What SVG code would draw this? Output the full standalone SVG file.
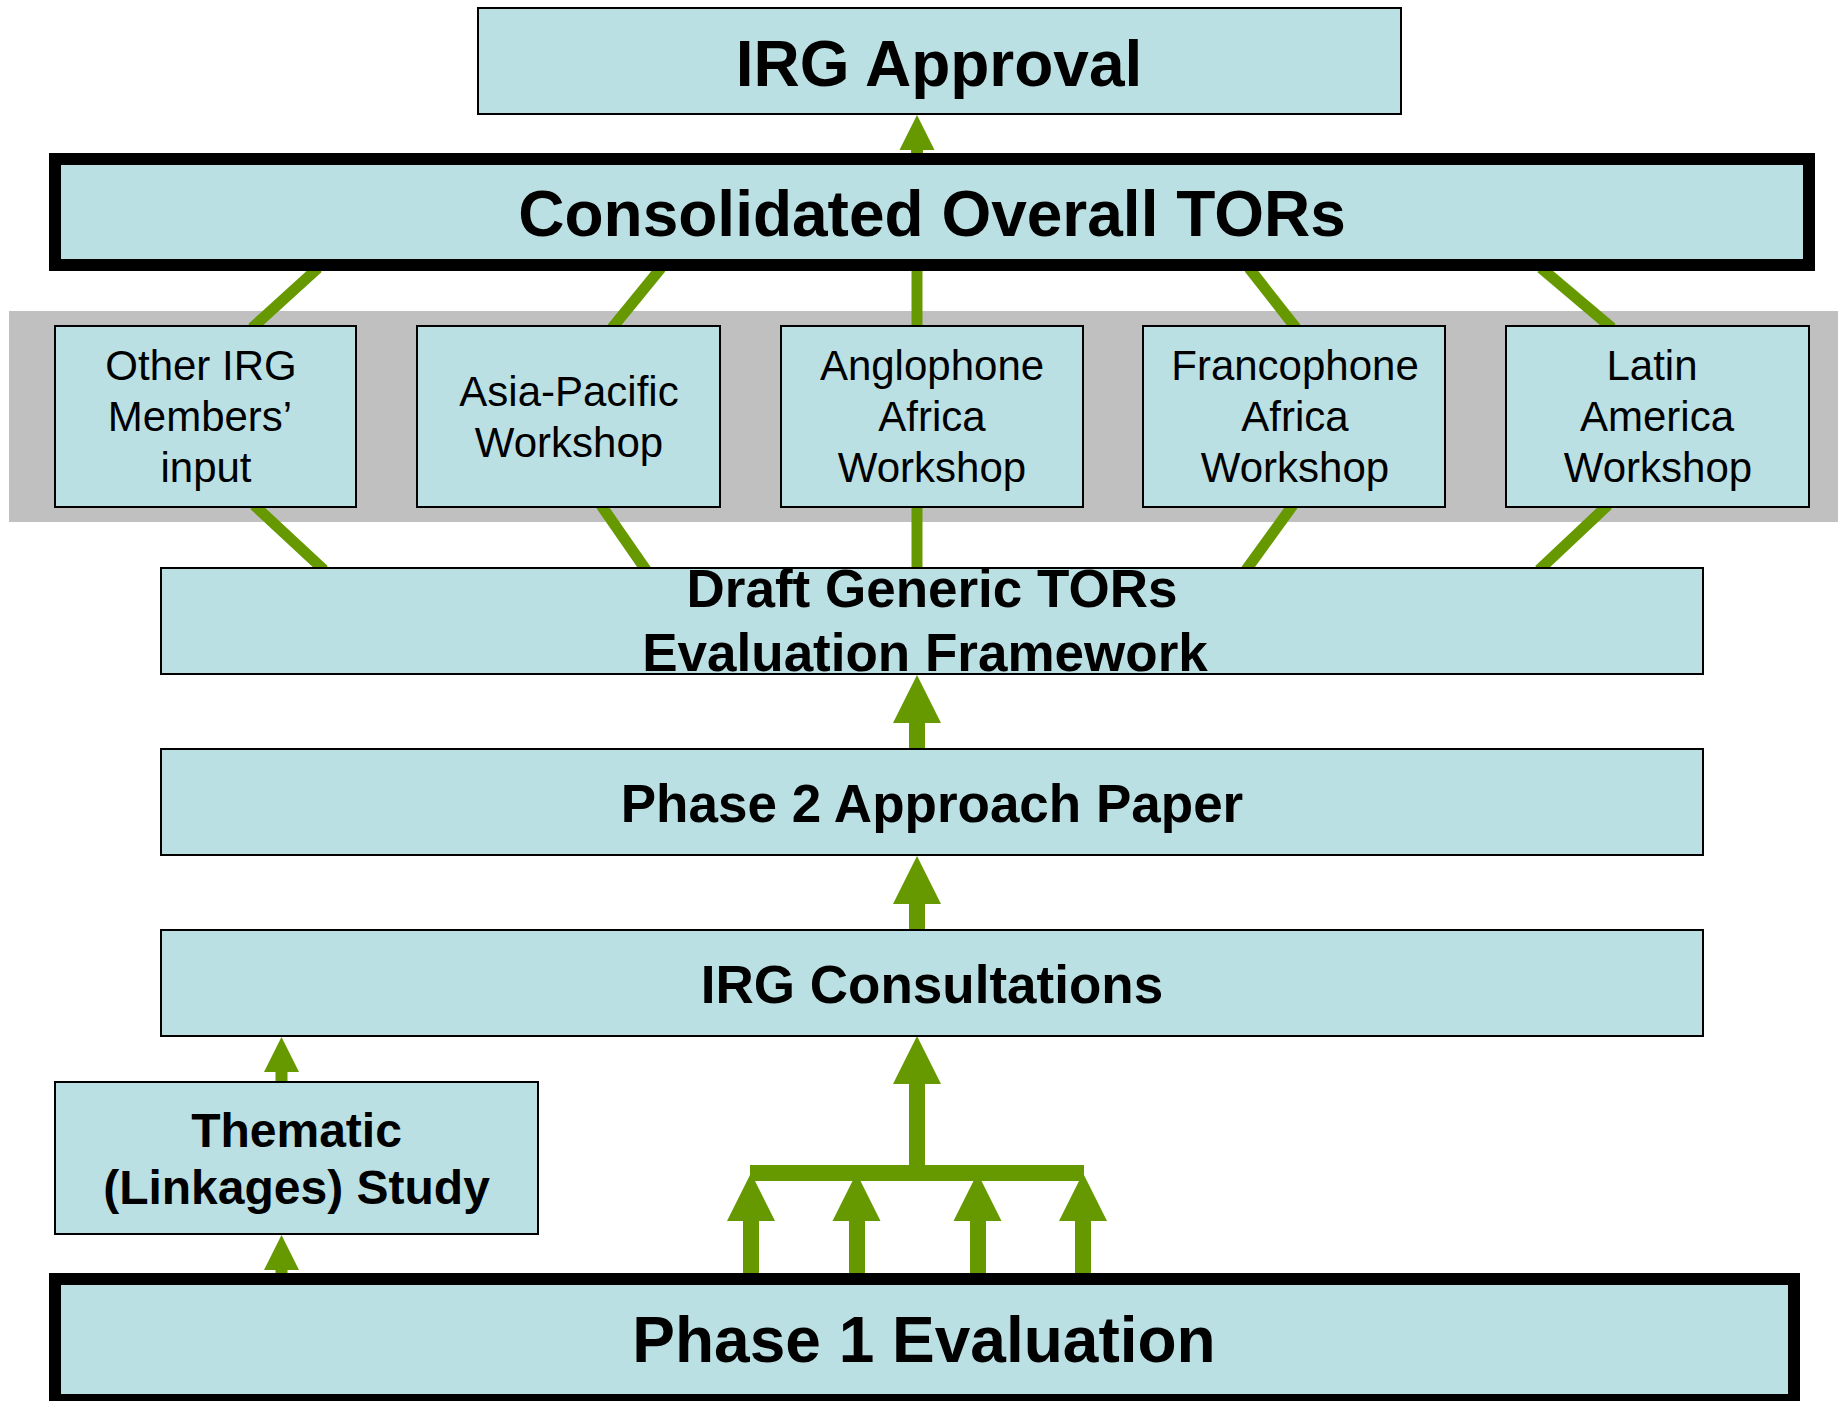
<svg xmlns="http://www.w3.org/2000/svg" xmlns:xlink="http://www.w3.org/1999/xlink" width="1838" height="1401" viewBox="0 0 1838 1401">
<style>
text{font-family:"Liberation Sans",Arial,sans-serif;fill:#000;text-anchor:middle}
.box{fill:#BBE0E3;stroke:#000;stroke-width:2}
.thick{fill:#BBE0E3;stroke:#000;stroke-width:12}
.b53{font-size:53px;font-weight:bold}
.b64{font-size:64px;font-weight:bold}
.b48{font-size:48px;font-weight:bold}
.r42{font-size:42px}
.ln{stroke:#669900;stroke-width:11;fill:none}
.g{fill:#669900}
</style>
<defs>
<path id="headB" d="M0,0 L24,48 L-24,48 Z"/>
<path id="headS" d="M0,0 L17.5,35 L-17.5,35 Z"/>
</defs>
<rect x="9" y="311" width="1829" height="211" fill="#C0C0C0"/>
<g id="connectors">
<line class="ln" x1="318" y1="268" x2="252" y2="328"/>
<line class="ln" x1="661" y1="268" x2="612" y2="328"/>
<line class="ln" x1="917" y1="268" x2="917" y2="328"/>
<line class="ln" x1="1249" y1="268" x2="1296" y2="328"/>
<line class="ln" x1="1541" y1="268" x2="1612" y2="328"/>
<line class="ln" x1="254" y1="505" x2="324" y2="570"/>
<line class="ln" x1="601" y1="505" x2="646" y2="570"/>
<line class="ln" x1="917" y1="505" x2="917" y2="570"/>
<line class="ln" x1="1293" y1="505" x2="1246" y2="570"/>
<line class="ln" x1="1608" y1="505" x2="1539" y2="570"/>
<g class="g">
<use xlink:href="#headS" x="917" y="115"/><rect x="911" y="149" width="12" height="6"/>
<use xlink:href="#headB" x="917" y="675"/><rect x="909" y="721" width="16" height="30"/>
<use xlink:href="#headB" x="917" y="856"/><rect x="909" y="903" width="16" height="29"/>
<use xlink:href="#headS" x="281.5" y="1037"/><rect x="275.5" y="1071" width="12" height="12"/>
<use xlink:href="#headS" x="281.5" y="1235"/><rect x="275.5" y="1269" width="12" height="6"/>
<use xlink:href="#headB" x="917" y="1036"/><rect x="909" y="1083" width="16" height="84"/>
<rect x="750" y="1165" width="334" height="16"/>
<use xlink:href="#headB" x="751" y="1173"/><rect x="743" y="1220" width="16" height="55"/>
<use xlink:href="#headB" x="856.5" y="1173"/><rect x="849" y="1220" width="16" height="55"/>
<use xlink:href="#headB" x="977.5" y="1173"/><rect x="970" y="1220" width="16" height="55"/>
<use xlink:href="#headB" x="1083" y="1173"/><rect x="1075" y="1220" width="16" height="55"/>
</g>
</g>
<g id="irg-approval"><rect class="box" x="478" y="8" width="923" height="106"/><text class="b64" x="939" y="86">IRG Approval</text></g>
<g id="consolidated"><rect class="thick" x="55" y="159" width="1754" height="106"/><text class="b64" x="932" y="236">Consolidated Overall TORs</text></g>
<g id="other-irg"><rect class="box" x="55" y="326" width="301" height="181"/><text class="r42" x="201" y="380">Other IRG</text><text class="r42" x="200" y="431">Members’</text><text class="r42" x="206" y="482">input</text></g>
<g id="asia-pacific"><rect class="box" x="417" y="326" width="303" height="181"/><text class="r42" x="569" y="406">Asia-Pacific</text><text class="r42" x="569" y="457">Workshop</text></g>
<g id="anglophone"><rect class="box" x="781" y="326" width="302" height="181"/><text class="r42" x="932" y="380">Anglophone</text><text class="r42" x="932" y="431">Africa</text><text class="r42" x="932" y="482">Workshop</text></g>
<g id="francophone"><rect class="box" x="1143" y="326" width="302" height="181"/><text class="r42" x="1295" y="380">Francophone</text><text class="r42" x="1295" y="431">Africa</text><text class="r42" x="1295" y="482">Workshop</text></g>
<g id="latin-america"><rect class="box" x="1506" y="326" width="303" height="181"/><text class="r42" x="1652" y="380">Latin</text><text class="r42" x="1657" y="431">America</text><text class="r42" x="1658" y="482">Workshop</text></g>
<g id="draft-generic"><rect class="box" x="161" y="568" width="1542" height="106"/><text class="b53" x="932" y="607">Draft Generic TORs</text><text class="b53" x="925" y="671">Evaluation Framework</text></g>
<g id="phase2"><rect class="box" x="161" y="749" width="1542" height="106"/><text class="b53" x="932" y="822">Phase 2 Approach Paper</text></g>
<g id="irg-consultations"><rect class="box" x="161" y="930" width="1542" height="106"/><text class="b53" x="932" y="1003">IRG Consultations</text></g>
<g id="thematic"><rect class="box" x="55" y="1082" width="483" height="152"/><text class="b48" x="296.5" y="1147">Thematic</text><text class="b48" x="296.5" y="1204">(Linkages) Study</text></g>
<g id="phase1"><rect class="thick" x="55" y="1279" width="1739" height="121"/><text class="b64" x="924" y="1362">Phase 1 Evaluation</text></g>
</svg>
